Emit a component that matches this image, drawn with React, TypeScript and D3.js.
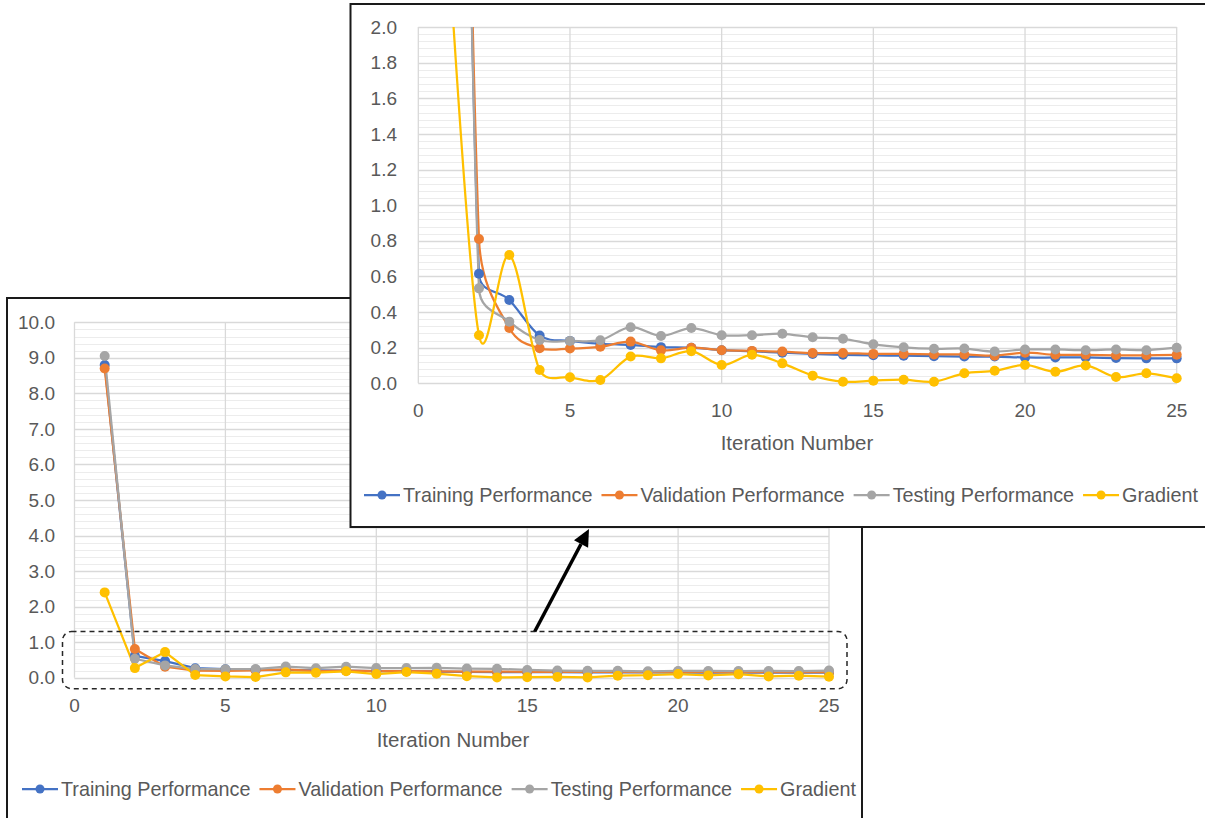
import React, { useEffect, useRef } from 'react';
import * as d3 from 'd3';

// iteration index on x
const iterations = [1, 2, 3, 4, 5, 6, 7, 8, 9, 10, 11, 12, 13, 14, 15, 16, 17, 18, 19, 20, 21, 22, 23, 24, 25];

const trainingPerf = [8.8, 0.615, 0.468, 0.268, 0.238, 0.222, 0.215, 0.203, 0.2, 0.186, 0.18, 0.172, 0.165, 0.16, 0.157, 0.155, 0.152, 0.15, 0.15, 0.145, 0.145, 0.145, 0.142, 0.14, 0.14];
const validationPerf = [8.7, 0.81, 0.31, 0.197, 0.195, 0.205, 0.234, 0.185, 0.2, 0.186, 0.182, 0.178, 0.17, 0.17, 0.165, 0.165, 0.162, 0.162, 0.155, 0.172, 0.16, 0.16, 0.157, 0.157, 0.16];
const testingPerf = [9.05, 0.533, 0.346, 0.243, 0.238, 0.242, 0.315, 0.266, 0.31, 0.27, 0.27, 0.278, 0.258, 0.25, 0.219, 0.202, 0.194, 0.195, 0.178, 0.19, 0.19, 0.186, 0.19, 0.186, 0.2];
const gradient = [2.4, 0.27, 0.72, 0.075, 0.034, 0.019, 0.15, 0.14, 0.18, 0.103, 0.16, 0.112, 0.043, 0.009, 0.015, 0.02, 0.009, 0.056, 0.07, 0.103, 0.065, 0.1, 0.035, 0.056, 0.028];

const seriesNames = ['Training Performance', 'Validation Performance', 'Testing Performance', 'Gradient'];
const seriesColors = ['#4472C4', '#ED7D31', '#A5A5A5', '#FFC000'];
const seriesValues = [trainingPerf, validationPerf, testingPerf, gradient];

const xTicks = [0, 5, 10, 15, 20, 25];
const mainYTicks = [0, 1, 2, 3, 4, 5, 6, 7, 8, 9, 10];
const zoomYTicks = [0, 0.2, 0.4, 0.6, 0.8, 1.0, 1.2, 1.4, 1.6, 1.8, 2.0];

const FONT = "'Liberation Sans', Arial, sans-serif";
const TEXT = '#595959';

interface ChartSpec {
  id: string;
  box: [number, number, number, number]; // x, y, w, h
  plot: [number, number, number, number]; // left, right, top, bottom
  yTicks: number[];
  smooth: boolean;
  yLabelX: number;
  xLabelY: number;
  titleX: number;
  titleY: number;
  legendY: number;
  legendX: number;
}

const mainSpec: ChartSpec = {
  id: 'main',
  box: [7, 298, 855, 560],
  plot: [74.5, 829, 322.3, 677.7],
  yTicks: mainYTicks,
  smooth: false,
  yLabelX: 55,
  xLabelY: 705,
  titleX: 453,
  titleY: 740,
  legendY: 789,
  legendX: 22,
};

const zoomSpec: ChartSpec = {
  id: 'zoom',
  box: [350.5, 4, 860, 523],
  plot: [418.3, 1176.7, 27, 383.3],
  yTicks: zoomYTicks,
  smooth: true,
  yLabelX: 397,
  xLabelY: 410,
  titleX: 797,
  titleY: 443,
  legendY: 495,
  legendX: 364,
};

// spreadsheet-style smoothing: arms of (next - prev)/6, capped at half the segment length
function smoothPath(pts: [number, number][]): string {
  const p = d3.path();
  const n = pts.length;
  const dist = (a: [number, number], b: [number, number]) => Math.hypot(b[0] - a[0], b[1] - a[1]);
  p.moveTo(pts[0][0], pts[0][1]);
  for (let i = 0; i < n - 1; i++) {
    const p0 = pts[Math.max(0, i - 1)];
    const p1 = pts[i];
    const p2 = pts[i + 1];
    const p3 = pts[Math.min(n - 1, i + 2)];
    const d12 = dist(p1, p2);
    const d02 = dist(p0, p2) || 1;
    const d13 = dist(p1, p3) || 1;
    const f1 = d02 / 6 < d12 / 2 ? 1 / 6 : d12 / 2 / d02;
    const f2 = d13 / 6 < d12 / 2 ? 1 / 6 : d12 / 2 / d13;
    p.bezierCurveTo(
      p1[0] + (p2[0] - p0[0]) * f1, p1[1] + (p2[1] - p0[1]) * f1,
      p2[0] - (p3[0] - p1[0]) * f2, p2[1] - (p3[1] - p1[1]) * f2,
      p2[0], p2[1]
    );
  }
  return p.toString();
}

function drawChart(root: d3.Selection<SVGGElement, unknown, null, undefined>, s: ChartSpec) {
  const [bx, by, bw, bh] = s.box;
  const [pl, pr, pt, pb] = s.plot;
  const yMax = s.yTicks[s.yTicks.length - 1];
  const yStep = s.yTicks[1] - s.yTicks[0];

  const x = d3.scaleLinear().domain([0, 25]).range([pl, pr]);
  const y = d3.scaleLinear().domain([0, yMax]).range([pb, pt]);

  const g = root.append('g');
  g.append('rect')
    .attr('x', bx).attr('y', by).attr('width', bw).attr('height', bh)
    .attr('fill', '#fff').attr('stroke', '#1a1a1a').attr('stroke-width', 2);

  // minor gridlines, 5 per major step
  const minor = d3.range(0, yMax + 1e-9, yStep / 5);
  g.append('g').selectAll('line').data(minor).join('line')
    .attr('x1', pl).attr('x2', pr)
    .attr('y1', d => Math.round(y(d)) + 0.5).attr('y2', d => Math.round(y(d)) + 0.5)
    .attr('stroke', '#ececec').attr('stroke-width', 1);

  g.append('g').selectAll('line').data(s.yTicks).join('line')
    .attr('x1', pl).attr('x2', pr)
    .attr('y1', d => Math.round(y(d)) + 0.5).attr('y2', d => Math.round(y(d)) + 0.5)
    .attr('stroke', '#d9d9d9').attr('stroke-width', 1.3);

  g.append('g').selectAll('line').data(xTicks).join('line')
    .attr('x1', d => x(d)).attr('x2', d => x(d))
    .attr('y1', pt).attr('y2', pb)
    .attr('stroke', '#d9d9d9').attr('stroke-width', 1.3);

  // tick labels
  g.append('g').selectAll('text').data(s.yTicks).join('text')
    .attr('x', s.yLabelX).attr('y', d => y(d)).attr('dy', '0.35em')
    .attr('text-anchor', 'end')
    .style('font-family', FONT).style('font-size', '19px').attr('fill', TEXT)
    .text(d => d3.format('.1f')(d));

  g.append('g').selectAll('text').data(xTicks).join('text')
    .attr('x', d => x(d)).attr('y', s.xLabelY).attr('dy', '0.35em')
    .attr('text-anchor', 'middle')
    .style('font-family', FONT).style('font-size', '19px').attr('fill', TEXT)
    .text(d => String(d));

  g.append('text')
    .attr('x', s.titleX).attr('y', s.titleY).attr('dy', '0.35em')
    .attr('text-anchor', 'middle')
    .style('font-family', FONT).style('font-size', '20.5px').attr('fill', TEXT)
    .text('Iteration Number');

  // series, clipped to plot top
  const clipId = `clip-${s.id}`;
  g.append('clipPath').attr('id', clipId)
    .append('rect').attr('x', pl - 12).attr('y', pt).attr('width', pr - pl + 24).attr('height', pb - pt + 14);

  const line = d3.line<number>()
    .x((d, i) => x(iterations[i]))
    .y(d => y(d));

  const data = g.append('g').attr('clip-path', `url(#${clipId})`);
  seriesValues.forEach((vals, k) => {
    const pts = vals.map((v, i) => [x(iterations[i]), y(v)] as [number, number]);
    data.append('path')
      .attr('d', s.smooth ? smoothPath(pts) : line(vals))
      .attr('fill', 'none')
      .attr('stroke', seriesColors[k])
      .attr('stroke-width', 2.25)
      .attr('stroke-linejoin', 'round');
  });
  seriesValues.forEach((vals, k) => {
    data.append('g').selectAll('circle').data(vals).join('circle')
      .attr('cx', (d, i) => x(iterations[i]))
      .attr('cy', d => y(d))
      .attr('r', 5)
      .attr('fill', seriesColors[k]);
  });

  // legend
  let lx = s.legendX;
  seriesNames.forEach((name, k) => {
    const item = g.append('g');
    item.append('line')
      .attr('x1', lx).attr('x2', lx + 36).attr('y1', s.legendY).attr('y2', s.legendY)
      .attr('stroke', seriesColors[k]).attr('stroke-width', 2.25);
    item.append('circle').attr('cx', lx + 18).attr('cy', s.legendY).attr('r', 4.5).attr('fill', seriesColors[k]);
    const t = item.append('text')
      .attr('x', lx + 39).attr('y', s.legendY).attr('dy', '0.35em')
      .style('font-family', FONT).style('font-size', '19.8px').attr('fill', TEXT)
      .text(name);
    const w = (t.node() as SVGTextElement).getComputedTextLength();
    lx += 39 + w + 9;
  });

  return { x, y };
}

export default function App() {
  const svgRef = useRef<SVGSVGElement>(null);

  useEffect(() => {
    if (!svgRef.current) return;
    const svg = d3.select(svgRef.current);
    svg.selectAll('*').remove();
    const root = svg.append('g');

    const main = drawChart(root, mainSpec);

    // dashed zoom region on the main chart
    const zx0 = main.x(0) - 12;
    const zx1 = main.x(25) + 18;
    const zy0 = main.y(1.3);
    const zy1 = main.y(0) + 11;
    root.append('rect')
      .attr('x', zx0).attr('y', zy0).attr('width', zx1 - zx0).attr('height', zy1 - zy0)
      .attr('rx', 9)
      .attr('fill', 'none').attr('stroke', '#262626').attr('stroke-width', 1.5)
      .attr('stroke-dasharray', '5,4');

    drawChart(root, zoomSpec);

    // arrow from zoom region to inset
    const ax0 = main.x(15.25);
    const ay0 = zy0;
    const ax1 = 589;
    const ay1 = zoomSpec.box[1] + zoomSpec.box[3] + 2;
    const ang = Math.atan2(ay1 - ay0, ax1 - ax0);
    const headLen = 17;
    const headW = 8;
    const bxp = ax1 - headLen * Math.cos(ang);
    const byp = ay1 - headLen * Math.sin(ang);
    root.append('line')
      .attr('x1', ax0).attr('y1', ay0).attr('x2', bxp).attr('y2', byp)
      .attr('stroke', '#000').attr('stroke-width', 3.5);
    root.append('polygon')
      .attr('points', [
        [ax1, ay1],
        [bxp + headW * Math.sin(ang), byp - headW * Math.cos(ang)],
        [bxp - headW * Math.sin(ang), byp + headW * Math.cos(ang)],
      ].map(p => p.join(',')).join(' '))
      .attr('fill', '#000');
  }, []);

  return (
    <svg
      ref={svgRef}
      width={1205}
      height={818}
      style={{ position: 'absolute', left: 0, top: 0, background: '#fff' }}
    />
  );
}
